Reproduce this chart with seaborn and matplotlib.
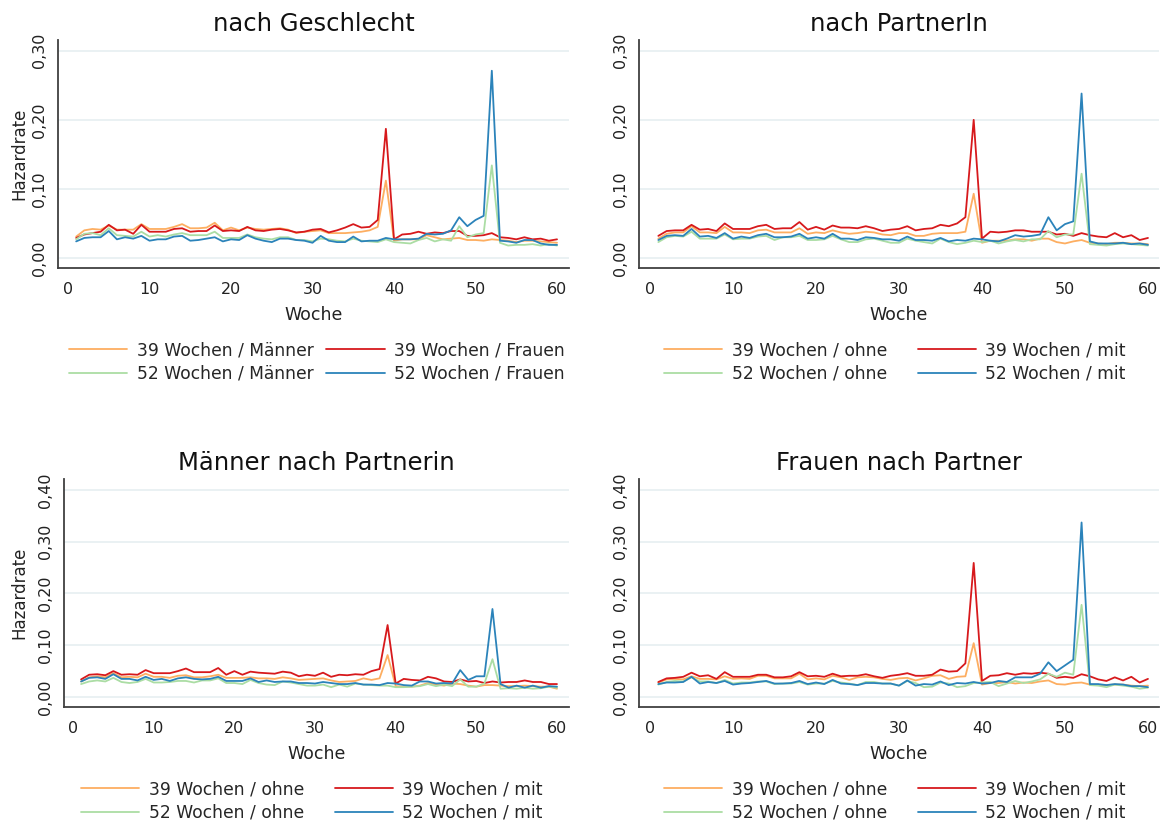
import matplotlib
matplotlib.use("Agg")
import matplotlib.pyplot as plt
import seaborn as sns
import pandas as pd
from matplotlib.ticker import FuncFormatter, MultipleLocator

weeks = list(range(1, 61))

# ---- Panel 1: nach Geschlecht ----
p1_labels = ["39 Wochen / Männer", "39 Wochen / Frauen", "52 Wochen / Männer", "52 Wochen / Frauen"]
p1_m39 = [0.031, 0.040, 0.042, 0.041, 0.047, 0.041, 0.041, 0.041, 0.049, 0.042,
          0.042, 0.042, 0.045, 0.049, 0.043, 0.043, 0.044, 0.051, 0.040, 0.044,
          0.040, 0.044, 0.042, 0.041, 0.042, 0.043, 0.041, 0.036, 0.038, 0.039,
          0.040, 0.036, 0.036, 0.036, 0.037, 0.038, 0.040, 0.045, 0.112, 0.025,
          0.027, 0.027, 0.027, 0.033, 0.030, 0.027, 0.028, 0.029, 0.026, 0.026,
          0.025, 0.027, 0.026, 0.025, 0.023, 0.025, 0.025, 0.024, 0.023, 0.022]
p1_f39 = [0.029, 0.034, 0.036, 0.038, 0.048, 0.040, 0.041, 0.035, 0.048, 0.038,
          0.038, 0.038, 0.042, 0.043, 0.038, 0.039, 0.039, 0.047, 0.039, 0.040,
          0.039, 0.045, 0.040, 0.039, 0.041, 0.042, 0.040, 0.037, 0.038, 0.041,
          0.042, 0.037, 0.040, 0.044, 0.049, 0.044, 0.045, 0.055, 0.187, 0.027,
          0.034, 0.035, 0.038, 0.035, 0.037, 0.036, 0.039, 0.039, 0.032, 0.032,
          0.033, 0.036, 0.030, 0.029, 0.027, 0.030, 0.027, 0.028, 0.025, 0.027]
p1_m52 = [0.027, 0.035, 0.036, 0.033, 0.043, 0.033, 0.032, 0.031, 0.038, 0.031,
          0.033, 0.031, 0.034, 0.036, 0.033, 0.033, 0.033, 0.038, 0.029, 0.029,
          0.029, 0.034, 0.030, 0.028, 0.027, 0.030, 0.030, 0.026, 0.026, 0.024,
          0.028, 0.027, 0.025, 0.024, 0.028, 0.025, 0.024, 0.023, 0.027, 0.023,
          0.022, 0.021, 0.026, 0.029, 0.024, 0.027, 0.025, 0.046, 0.030, 0.034,
          0.036, 0.134, 0.022, 0.018, 0.019, 0.019, 0.020, 0.018, 0.020, 0.018]
p1_f52 = [0.024, 0.029, 0.030, 0.030, 0.039, 0.027, 0.030, 0.028, 0.032, 0.025,
          0.027, 0.027, 0.031, 0.032, 0.025, 0.026, 0.028, 0.030, 0.024, 0.027,
          0.026, 0.033, 0.028, 0.025, 0.023, 0.028, 0.028, 0.026, 0.025, 0.022,
          0.032, 0.025, 0.023, 0.023, 0.031, 0.024, 0.025, 0.025, 0.029, 0.027,
          0.027, 0.027, 0.028, 0.035, 0.034, 0.035, 0.040, 0.059, 0.046, 0.055,
          0.061, 0.271, 0.025, 0.024, 0.022, 0.026, 0.026, 0.021, 0.019, 0.019]

# ---- Panel 2: nach PartnerIn ----
p2_labels = ["39 Wochen / ohne", "39 Wochen / mit", "52 Wochen / ohne", "52 Wochen / mit"]
p2_o39 = [0.028, 0.035, 0.037, 0.037, 0.046, 0.037, 0.037, 0.036, 0.045, 0.037,
          0.037, 0.036, 0.040, 0.041, 0.037, 0.037, 0.037, 0.043, 0.035, 0.037,
          0.036, 0.040, 0.037, 0.035, 0.036, 0.038, 0.037, 0.034, 0.033, 0.036,
          0.036, 0.032, 0.032, 0.035, 0.036, 0.036, 0.036, 0.038, 0.093, 0.022,
          0.025, 0.025, 0.025, 0.027, 0.027, 0.025, 0.028, 0.028, 0.023, 0.021,
          0.024, 0.026, 0.022, 0.021, 0.020, 0.022, 0.022, 0.021, 0.021, 0.020]
p2_m39 = [0.032, 0.039, 0.040, 0.040, 0.048, 0.041, 0.042, 0.039, 0.050, 0.042,
          0.042, 0.042, 0.046, 0.048, 0.042, 0.043, 0.043, 0.052, 0.041, 0.045,
          0.041, 0.047, 0.044, 0.044, 0.043, 0.046, 0.043, 0.039, 0.041, 0.042,
          0.046, 0.040, 0.042, 0.043, 0.048, 0.046, 0.050, 0.059, 0.200, 0.028,
          0.038, 0.037, 0.038, 0.040, 0.040, 0.038, 0.038, 0.038, 0.034, 0.035,
          0.032, 0.036, 0.033, 0.031, 0.030, 0.036, 0.030, 0.033, 0.026, 0.029]
p2_o52 = [0.023, 0.030, 0.032, 0.031, 0.038, 0.028, 0.028, 0.028, 0.034, 0.027,
          0.028, 0.028, 0.031, 0.032, 0.026, 0.030, 0.030, 0.032, 0.026, 0.026,
          0.027, 0.032, 0.027, 0.023, 0.023, 0.027, 0.028, 0.025, 0.022, 0.022,
          0.028, 0.025, 0.023, 0.021, 0.028, 0.023, 0.020, 0.022, 0.025, 0.023,
          0.025, 0.021, 0.024, 0.026, 0.024, 0.027, 0.027, 0.039, 0.030, 0.034,
          0.034, 0.122, 0.020, 0.019, 0.018, 0.020, 0.021, 0.020, 0.019, 0.018]
p2_m52 = [0.026, 0.032, 0.033, 0.032, 0.042, 0.031, 0.032, 0.029, 0.036, 0.028,
          0.031, 0.029, 0.033, 0.035, 0.030, 0.030, 0.031, 0.035, 0.028, 0.030,
          0.028, 0.035, 0.028, 0.028, 0.026, 0.030, 0.029, 0.027, 0.027, 0.025,
          0.031, 0.026, 0.026, 0.025, 0.029, 0.024, 0.026, 0.025, 0.028, 0.027,
          0.025, 0.024, 0.028, 0.033, 0.031, 0.032, 0.034, 0.059, 0.040, 0.049,
          0.053, 0.238, 0.024, 0.021, 0.021, 0.021, 0.022, 0.020, 0.021, 0.019]

# ---- Panel 3: Männer nach Partnerin ----
p3_labels = ["39 Wochen / ohne", "39 Wochen / mit", "52 Wochen / ohne", "52 Wochen / mit"]
p3_o39 = [0.030, 0.038, 0.040, 0.038, 0.046, 0.038, 0.039, 0.038, 0.045, 0.039,
          0.039, 0.037, 0.041, 0.042, 0.038, 0.038, 0.040, 0.043, 0.037, 0.037,
          0.037, 0.038, 0.036, 0.036, 0.035, 0.038, 0.036, 0.033, 0.034, 0.035,
          0.036, 0.032, 0.029, 0.030, 0.031, 0.036, 0.033, 0.036, 0.081, 0.021,
          0.020, 0.020, 0.022, 0.027, 0.024, 0.022, 0.026, 0.025, 0.022, 0.020,
          0.023, 0.023, 0.022, 0.021, 0.021, 0.022, 0.021, 0.020, 0.020, 0.016]
p3_m39 = [0.034, 0.043, 0.044, 0.042, 0.050, 0.043, 0.044, 0.043, 0.052, 0.046,
          0.046, 0.046, 0.050, 0.055, 0.048, 0.048, 0.048, 0.056, 0.043, 0.050,
          0.043, 0.049, 0.047, 0.046, 0.045, 0.049, 0.047, 0.040, 0.043, 0.041,
          0.047, 0.039, 0.043, 0.042, 0.044, 0.043, 0.050, 0.054, 0.139, 0.026,
          0.035, 0.033, 0.032, 0.039, 0.036, 0.030, 0.029, 0.034, 0.030, 0.031,
          0.027, 0.030, 0.028, 0.029, 0.029, 0.032, 0.029, 0.029, 0.025, 0.025]
p3_o52 = [0.025, 0.030, 0.032, 0.030, 0.037, 0.029, 0.027, 0.029, 0.035, 0.028,
          0.028, 0.029, 0.031, 0.031, 0.028, 0.032, 0.032, 0.036, 0.027, 0.027,
          0.025, 0.033, 0.027, 0.024, 0.023, 0.030, 0.028, 0.025, 0.022, 0.022,
          0.024, 0.019, 0.024, 0.020, 0.026, 0.024, 0.023, 0.022, 0.022, 0.019,
          0.019, 0.020, 0.021, 0.025, 0.021, 0.024, 0.021, 0.034, 0.020, 0.020,
          0.026, 0.073, 0.016, 0.017, 0.016, 0.018, 0.016, 0.017, 0.020, 0.018]
p3_m52 = [0.030, 0.037, 0.038, 0.035, 0.044, 0.035, 0.035, 0.032, 0.039, 0.033,
          0.035, 0.031, 0.036, 0.038, 0.035, 0.034, 0.035, 0.039, 0.031, 0.031,
          0.031, 0.036, 0.029, 0.032, 0.029, 0.030, 0.030, 0.027, 0.027, 0.026,
          0.029, 0.027, 0.025, 0.025, 0.027, 0.024, 0.024, 0.023, 0.027, 0.026,
          0.023, 0.022, 0.030, 0.030, 0.026, 0.027, 0.026, 0.052, 0.033, 0.040,
          0.040, 0.170, 0.025, 0.018, 0.022, 0.018, 0.022, 0.018, 0.021, 0.020]

# ---- Panel 4: Frauen nach Partner ----
p4_labels = ["39 Wochen / ohne", "39 Wochen / mit", "52 Wochen / ohne", "52 Wochen / mit"]
p4_o39 = [0.028, 0.034, 0.035, 0.034, 0.040, 0.035, 0.035, 0.034, 0.040, 0.035,
          0.036, 0.035, 0.041, 0.041, 0.036, 0.036, 0.036, 0.045, 0.034, 0.036,
          0.034, 0.041, 0.038, 0.033, 0.038, 0.039, 0.038, 0.035, 0.033, 0.036,
          0.037, 0.032, 0.036, 0.041, 0.042, 0.035, 0.039, 0.040, 0.104, 0.024,
          0.027, 0.027, 0.029, 0.026, 0.028, 0.027, 0.030, 0.032, 0.025, 0.024,
          0.027, 0.028, 0.024, 0.023, 0.023, 0.024, 0.024, 0.022, 0.021, 0.022]
p4_m39 = [0.029, 0.036, 0.037, 0.039, 0.047, 0.040, 0.042, 0.035, 0.048, 0.039,
          0.039, 0.039, 0.043, 0.043, 0.038, 0.038, 0.040, 0.048, 0.040, 0.041,
          0.039, 0.045, 0.040, 0.041, 0.041, 0.044, 0.040, 0.037, 0.041, 0.043,
          0.046, 0.041, 0.041, 0.043, 0.053, 0.049, 0.050, 0.065, 0.259, 0.031,
          0.041, 0.042, 0.046, 0.043, 0.046, 0.045, 0.047, 0.045, 0.037, 0.039,
          0.037, 0.044, 0.040, 0.034, 0.031, 0.038, 0.032, 0.039, 0.028, 0.035]
p4_o52 = [0.024, 0.029, 0.031, 0.030, 0.038, 0.030, 0.030, 0.027, 0.033, 0.026,
          0.028, 0.028, 0.030, 0.030, 0.025, 0.026, 0.026, 0.029, 0.024, 0.026,
          0.026, 0.031, 0.028, 0.026, 0.023, 0.029, 0.029, 0.026, 0.026, 0.022,
          0.031, 0.027, 0.019, 0.020, 0.028, 0.026, 0.019, 0.021, 0.027, 0.028,
          0.029, 0.021, 0.026, 0.031, 0.027, 0.030, 0.034, 0.045, 0.039, 0.047,
          0.043, 0.178, 0.023, 0.022, 0.019, 0.024, 0.022, 0.020, 0.016, 0.018]
p4_m52 = [0.025, 0.028, 0.028, 0.029, 0.039, 0.026, 0.029, 0.027, 0.031, 0.024,
          0.026, 0.027, 0.029, 0.031, 0.026, 0.026, 0.027, 0.031, 0.025, 0.028,
          0.025, 0.033, 0.026, 0.025, 0.023, 0.027, 0.027, 0.026, 0.026, 0.022,
          0.032, 0.022, 0.025, 0.024, 0.030, 0.023, 0.027, 0.026, 0.029, 0.026,
          0.027, 0.031, 0.029, 0.038, 0.038, 0.038, 0.045, 0.067, 0.050, 0.061,
          0.072, 0.337, 0.025, 0.025, 0.023, 0.025, 0.024, 0.021, 0.021, 0.019]

titles = ["nach Geschlecht", "nach PartnerIn", "Männer nach Partnerin", "Frauen nach Partner"]
colors = ["#fdae61", "#d7191c", "#abdda4", "#2b83ba"]

panels = [
    (p1_labels, [p1_m39, p1_f39, p1_m52, p1_f52]),
    (p2_labels, [p2_o39, p2_m39, p2_o52, p2_m52]),
    (p3_labels, [p3_o39, p3_m39, p3_o52, p3_m52]),
    (p4_labels, [p4_o39, p4_m39, p4_o52, p4_m52]),
]

sns.set_style("white")
plt.rcParams["font.family"] = ["DejaVu Sans"]

W, H = 1163, 823
fig = plt.figure(figsize=(W / 100, H / 100), dpi=100)

# pixel boxes: left, right, top, bottom ; x-limits ; y-limits ; y ticks
layout = [
    (58, 569, 40, 268, (-1.23, 61.47), (-0.0145, 0.3155), [0, 0.1, 0.2, 0.3]),
    (639, 1159, 40, 268, (-1.33, 61.33), (-0.0145, 0.3155), [0, 0.1, 0.2, 0.3]),
    (64, 569, 479, 707, (-1.12, 61.49), (-0.0193, 0.421), [0, 0.1, 0.2, 0.3, 0.4]),
    (639, 1159, 479, 707, (-1.33, 61.33), (-0.0193, 0.421), [0, 0.1, 0.2, 0.3, 0.4]),
]
legend_pos = [(317, 362), (895, 362), (312, 801), (895, 801)]
col_space = [0.75, 1.8, 1.8, 1.8]
axcol = "#404040"

for i, ((labels, series), (l, r, t, b, xl, yl, yt)) in enumerate(zip(panels, layout)):
    ax = fig.add_axes([l / W, 1 - b / H, (r - l) / W, (b - t) / H])
    rows = []
    for lab, vals in zip(labels, series):
        for w, v in zip(weeks, vals):
            rows.append({"Woche": w, "Hazardrate": v, "Serie": lab})
    df = pd.DataFrame(rows)
    sns.lineplot(data=df, x="Woche", y="Hazardrate", hue="Serie", hue_order=labels,
                 palette=colors, linewidth=1.3, ax=ax, legend=True)
    handles, labs = ax.get_legend_handles_labels()
    ax.get_legend().remove()

    ax.set_xlim(*xl)
    ax.set_ylim(*yl)
    ax.set_yticks(yt)
    ax.yaxis.set_major_formatter(FuncFormatter(lambda v, p: f"{v:.2f}".replace(".", ",")))
    ax.xaxis.set_major_locator(MultipleLocator(10))
    ax.xaxis.set_minor_locator(MultipleLocator(5))
    ax.grid(axis="y", color="#e6eff1", linewidth=1.2)
    ax.set_axisbelow(True)
    for s in ["top", "right"]:
        ax.spines[s].set_visible(False)
    for s in ["left", "bottom"]:
        ax.spines[s].set_color(axcol)
        ax.spines[s].set_linewidth(1.3)
    ax.tick_params(axis="both", which="major", direction="out", length=5, width=1.1,
                   color=axcol, labelsize=11.5, labelcolor="#222222", pad=4)
    ax.tick_params(axis="x", which="minor", direction="out", length=4, width=1.0, color=axcol)
    ax.tick_params(axis="x", which="major", length=6)
    ax.tick_params(axis="y", which="major", pad=3)
    for lbl in ax.get_yticklabels():
        lbl.set_rotation(90)
        lbl.set_va("center")

    ax.set_xlabel("Woche", fontsize=12.5, color="#222222")
    ax.xaxis.set_label_coords(0.5, -47 / (b - t))
    ax.xaxis.label.set_va("center")
    if i in (0, 2):
        ax.set_ylabel("Hazardrate", fontsize=12, color="#222222")
        ax.yaxis.set_label_coords((19 - l) / (r - l), 0.5)
        ax.yaxis.label.set_va("center")
    else:
        ax.set_ylabel("")

    ax.text(0.5, 1.07, titles[i], transform=ax.transAxes, ha="center", va="center",
            fontsize=17.5, color="#111111")

    order = [0, 2, 1, 3]
    lx, ly = legend_pos[i]
    fig.legend([handles[k] for k in order], [labs[k] for k in order], ncol=2,
               loc="center", bbox_to_anchor=(lx / W, 1 - ly / H), frameon=False,
               fontsize=12.3, handlelength=3.4, columnspacing=col_space[i],
               handletextpad=0.55, labelspacing=0.3)

fig.savefig("out.png", dpi=100)
